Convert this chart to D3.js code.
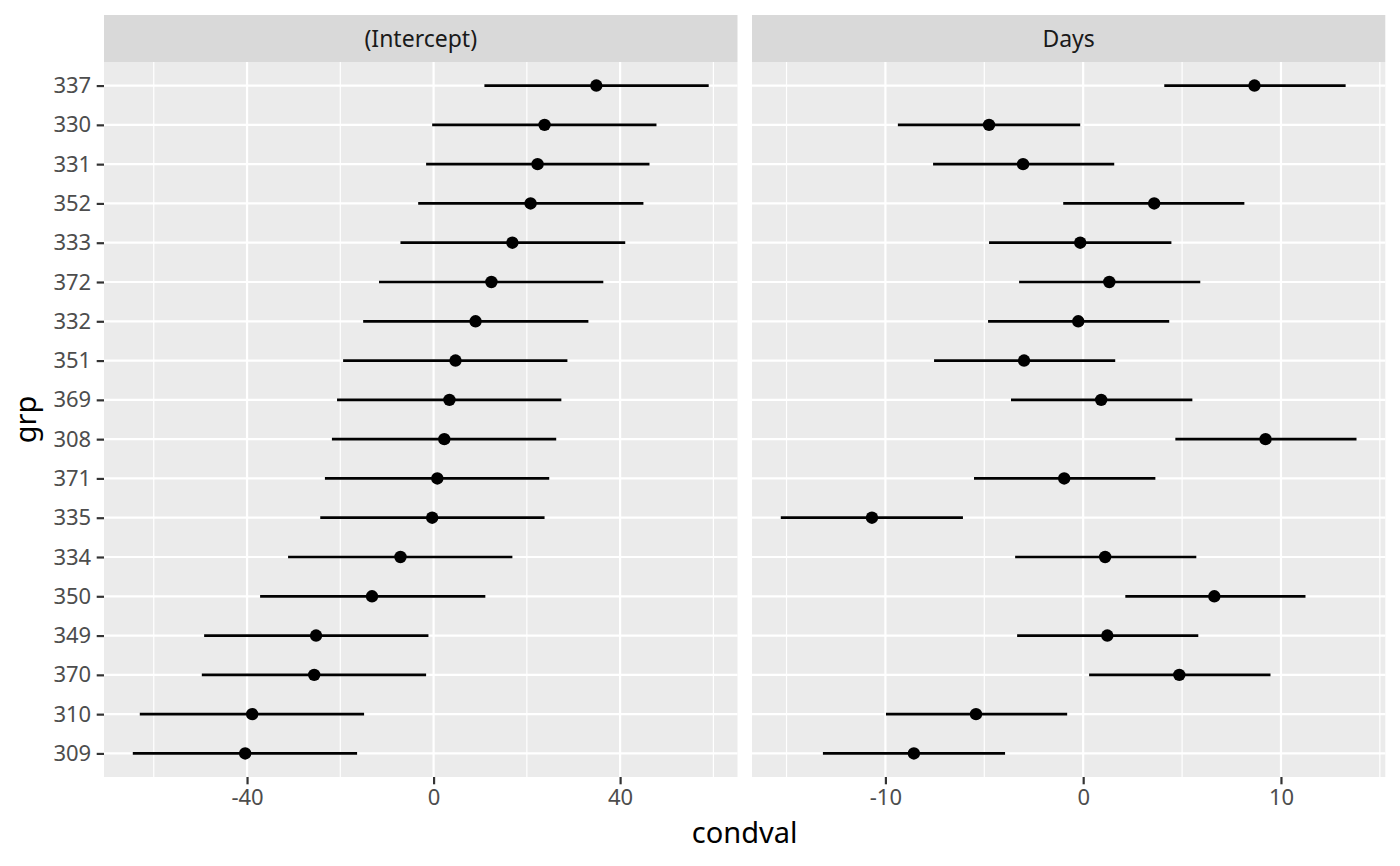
<!DOCTYPE html>
<html>
<head>
<meta charset="utf-8">
<script src="https://cdn.jsdelivr.net/npm/d3@7"></script>
<style>
  body { margin: 0; background: #fff; }
  svg { display: block; font-family: "Noto Sans", "Open Sans", sans-serif; }
</style>
</head>
<body>
<svg id="chart" width="1400" height="866"></svg>
<script>
// groups, top to bottom
const grp = ["337","330","331","352","333","372","332","351","369","308","371","335","334","350","349","370","310","309"];

// (Intercept) conditional values
const interceptLo  = [10.9, -0.3, -1.6, -3.3, -7.1, -11.7, -15.1, -19.4, -20.7, -21.8, -23.3, -24.3, -31.2, -37.2, -49.2, -49.7, -63.0, -64.5];
const interceptEst = [34.9, 23.8, 22.3, 20.8, 16.9, 12.4, 9.0, 4.7, 3.4, 2.3, 0.8, -0.3, -7.1, -13.2, -25.2, -25.6, -38.9, -40.4];
const interceptHi  = [59.0, 47.8, 46.3, 45.0, 41.1, 36.4, 33.2, 28.7, 27.4, 26.3, 24.8, 23.8, 16.9, 11.1, -1.1, -1.6, -14.9, -16.4];

// Days conditional values
const daysLo  = [4.10, -9.37, -7.59, -1.01, -4.76, -3.24, -4.81, -7.54, -3.65, 4.66, -5.52, -15.29, -3.44, 2.13, -3.34, 0.30, -9.97, -13.16];
const daysEst = [8.66, -4.76, -3.04, 3.59, -0.15, 1.32, -0.25, -2.99, 0.91, 9.22, -0.96, -10.68, 1.11, 6.63, 1.22, 4.86, -5.42, -8.56];
const daysHi  = [13.27, -0.15, 1.57, 8.15, 4.46, 5.92, 4.35, 1.62, 5.52, 13.82, 3.65, -6.08, 5.72, 11.24, 5.82, 9.47, -0.81, -3.95];

const facetNames = ["(Intercept)", "Days"];
const majorTicks = [[-40, 0, 40], [-10, 0, 10]];
const minorTicks = [[-60, -20, 20, 60], [-15, -5, 5, 15]];

const svg = d3.select("#chart");

const stripTop = 15, stripH = 47;
const panelTop = stripTop + stripH, panelBottom = 777;
const panelX = [[104, 737.5], [752, 1385.3]];

const yScale = d3.scalePoint().domain(grp).range([panelTop, panelBottom]).padding(0.6);

const facets = [
  { lo: interceptLo, est: interceptEst, hi: interceptHi },
  { lo: daysLo, est: daysEst, hi: daysHi }
];

facets.forEach(function (f, i) {
  const x0 = panelX[i][0], x1 = panelX[i][1];
  const mn = d3.min(f.lo), mx = d3.max(f.hi);
  const pad = (mx - mn) * 0.05;
  const xScale = d3.scaleLinear().domain([mn - pad, mx + pad]).range([x0, x1]);

  const rows = grp.map(function (g, k) { return { g: g, lo: f.lo[k], est: f.est[k], hi: f.hi[k] }; });

  // strip
  svg.append("rect")
    .attr("x", x0).attr("y", stripTop)
    .attr("width", x1 - x0).attr("height", stripH)
    .attr("fill", "#D9D9D9");
  svg.append("text")
    .attr("x", (x0 + x1) / 2).attr("y", stripTop + stripH / 2)
    .attr("dy", "0.36em")
    .attr("text-anchor", "middle")
    .style("font-size", "23px")
    .style("fill", "#1A1A1A")
    .text(facetNames[i]);

  // panel background
  svg.append("rect")
    .attr("x", x0).attr("y", panelTop)
    .attr("width", x1 - x0).attr("height", panelBottom - panelTop)
    .attr("fill", "#EBEBEB");

  const grid = svg.append("g");
  grid.selectAll(".minor")
    .data(minorTicks[i].filter(function (v) { return xScale(v) >= x0 && xScale(v) <= x1; }))
    .enter().append("line")
    .attr("x1", function (d) { return xScale(d); })
    .attr("x2", function (d) { return xScale(d); })
    .attr("y1", panelTop).attr("y2", panelBottom)
    .attr("stroke", "#fff").attr("stroke-width", 1.2);
  grid.selectAll(".majorx")
    .data(majorTicks[i])
    .enter().append("line")
    .attr("x1", function (d) { return xScale(d); })
    .attr("x2", function (d) { return xScale(d); })
    .attr("y1", panelTop).attr("y2", panelBottom)
    .attr("stroke", "#fff").attr("stroke-width", 2.2);
  grid.selectAll(".majory")
    .data(grp)
    .enter().append("line")
    .attr("x1", x0).attr("x2", x1)
    .attr("y1", function (d) { return yScale(d); })
    .attr("y2", function (d) { return yScale(d); })
    .attr("stroke", "#fff").attr("stroke-width", 2.2);

  // error bars and points
  svg.append("g").selectAll("line")
    .data(rows)
    .enter().append("line")
    .attr("x1", function (d) { return xScale(d.lo); })
    .attr("x2", function (d) { return xScale(d.hi); })
    .attr("y1", function (d) { return yScale(d.g); })
    .attr("y2", function (d) { return yScale(d.g); })
    .attr("stroke", "#000").attr("stroke-width", 2.7);

  svg.append("g").selectAll("circle")
    .data(rows)
    .enter().append("circle")
    .attr("cx", function (d) { return xScale(d.est); })
    .attr("cy", function (d) { return yScale(d.g); })
    .attr("r", 6.2)
    .attr("fill", "#000");

  // x axis
  const xAxis = svg.append("g")
    .attr("transform", "translate(0," + panelBottom + ")")
    .call(d3.axisBottom(xScale).tickValues(majorTicks[i]).tickSize(7.3).tickPadding(5).tickFormat(d3.format("d")));
  xAxis.select(".domain").remove();
  xAxis.selectAll(".tick line").attr("stroke", "#333").attr("stroke-width", 2.2);
  xAxis.selectAll(".tick text")
    .style("font-size", "22px")
    .style("font-family", "'Noto Sans', sans-serif")
    .attr("fill", "#4D4D4D")
    .text(function (d) { return d < 0 ? "-" + Math.abs(d) : d; });

  // y axis on first panel
  if (i === 0) {
    const yAxis = svg.append("g")
      .attr("transform", "translate(" + x0 + ",0)")
      .call(d3.axisLeft(yScale).tickSize(7.3).tickPadding(5.5));
    yAxis.select(".domain").remove();
    yAxis.selectAll(".tick line").attr("stroke", "#333").attr("stroke-width", 2.2);
    yAxis.selectAll(".tick text")
      .style("font-size", "22px")
      .style("font-family", "'Noto Sans', sans-serif")
      .attr("fill", "#4D4D4D");
  }
});

// axis titles
svg.append("text")
  .attr("x", (panelX[0][0] + panelX[1][1]) / 2)
  .attr("y", 843)
  .attr("text-anchor", "middle")
  .style("font-size", "29px")
  .style("fill", "#000")
  .text("condval");

svg.append("text")
  .attr("transform", "translate(36," + (panelTop + panelBottom) / 2 + ") rotate(-90)")
  .attr("text-anchor", "middle")
  .style("font-size", "29px")
  .style("fill", "#000")
  .text("grp");
</script>
</body>
</html>
